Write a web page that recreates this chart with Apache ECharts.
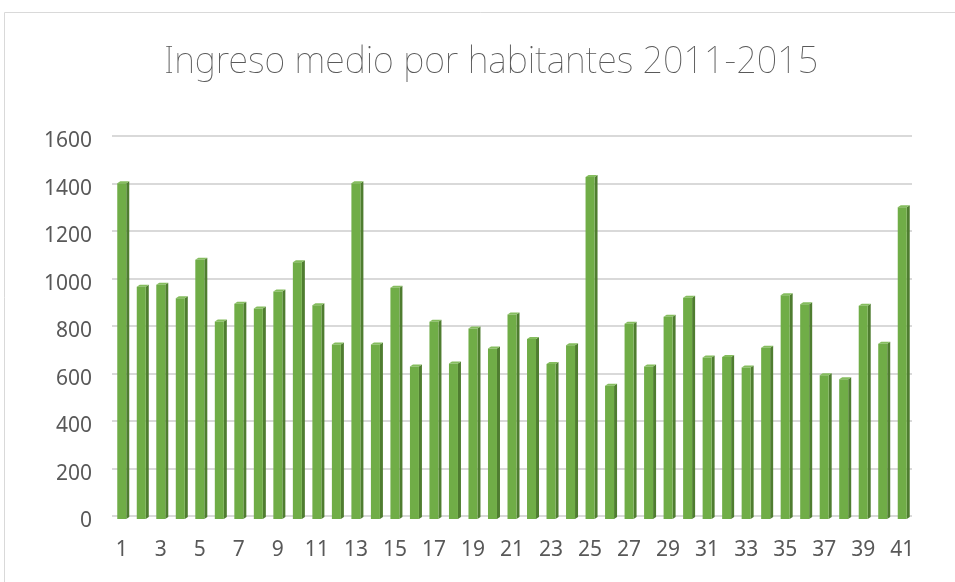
<!DOCTYPE html>
<html>
<head>
<meta charset="utf-8">
<script src="https://cdn.jsdelivr.net/npm/echarts@6/dist/echarts.min.js"></script>
<style>
  html, body { margin: 0; padding: 0; background: #fff; }
  #chart { width: 955px; height: 582px; }
</style>
</head>
<body>
<div id="chart"></div>
<script>
// categories 1..41 and the income per inhabitant
const categories = ["1","2","3","4","5","6","7","8","9","10","11","12","13","14","15","16","17","18","19","20","21",
                    "22","23","24","25","26","27","28","29","30","31","32","33","34","35","36","37","38","39","40","41"];
const ingreso = [1405, 970, 978, 921, 1083, 823, 898, 878, 950, 1073, 892, 726, 1405, 726, 965, 634, 822, 646, 794, 709, 853,
                 749, 644, 723, 1432, 553, 814, 634, 843, 923, 672, 674, 630, 713, 934, 896, 597, 580, 889, 730, 1304];
const yTicks = [0, 200, 400, 600, 800, 1000, 1200, 1400, 1600];

const chart = echarts.init(document.getElementById("chart"));

// 3D-ish column: front face + dark right side + light top
function renderBar(params, api) {
    const top = api.coord([api.value(0), api.value(1)]);
    const base = api.coord([api.value(0), 0]);
    const cx = top[0];
    const w = 9, dx = 3, dy = 2;
    const yt = top[1] + 1;
    const yb = base[1] + 3;
    const l = cx - w / 2, r = cx + w / 2;
    return {
        type: "group",
        children: [
            {
                type: "polygon",
                shape: { points: [[r, yt], [r + dx, yt - dy], [r + dx, yb - dy], [r, yb]] },
                style: { fill: "#4f7d30" }
            },
            {
                type: "polygon",
                shape: { points: [[l, yt], [l + dx, yt - dy], [r + dx, yt - dy], [r, yt]] },
                style: { fill: "#85bd5e" }
            },
            {
                type: "rect",
                shape: { x: l, y: yt, width: w, height: yb - yt },
                style: { fill: "#70ad47" }
            }
        ]
    };
}

const option = {
    backgroundColor: "#fff",
    animation: false,
    title: {
        text: "Ingreso medio por habitantes 2011-2015",
        left: 159,
        top: 40,
        textStyle: {
            fontFamily: "Noto Sans",
            fontWeight: "lighter",
            fontSize: 36,
            color: "#595959"
        }
    },
    graphic: [
        {
            type: "rect",
            shape: { x: 4.5, y: 12.5, width: 1000, height: 700 },
            style: { fill: "none", stroke: "#d9d9d9", lineWidth: 1 },
            silent: true
        }
    ],
    grid: { left: 112, right: 43, top: 136, bottom: 66 },
    xAxis: {
        type: "category",
        data: categories,
        axisLine: { show: false },
        axisTick: { show: false },
        axisLabel: {
            interval: 1,
            margin: 24,
            fontFamily: "Noto Sans",
            fontSize: 21,
            color: "#595959"
        }
    },
    yAxis: {
        type: "value",
        min: 0,
        max: 1600,
        interval: 200,
        axisLine: { show: false },
        axisTick: { show: false },
        axisLabel: {
            margin: 20,
            verticalAlign: "top",
            lineHeight: 11,
            fontFamily: "Noto Sans",
            fontSize: 21,
            color: "#595959",
            formatter: v => yTicks.indexOf(v) >= 0 ? String(v) : ""
        },
        splitLine: { lineStyle: { color: "#d9d9d9", width: 2 } }
    },
    series: [
        {
            type: "custom",
            renderItem: renderBar,
            encode: { x: 0, y: 1 },
            data: ingreso.map((v, i) => [i, v])
        }
    ]
};

chart.setOption(option);
</script>
</body>
</html>
